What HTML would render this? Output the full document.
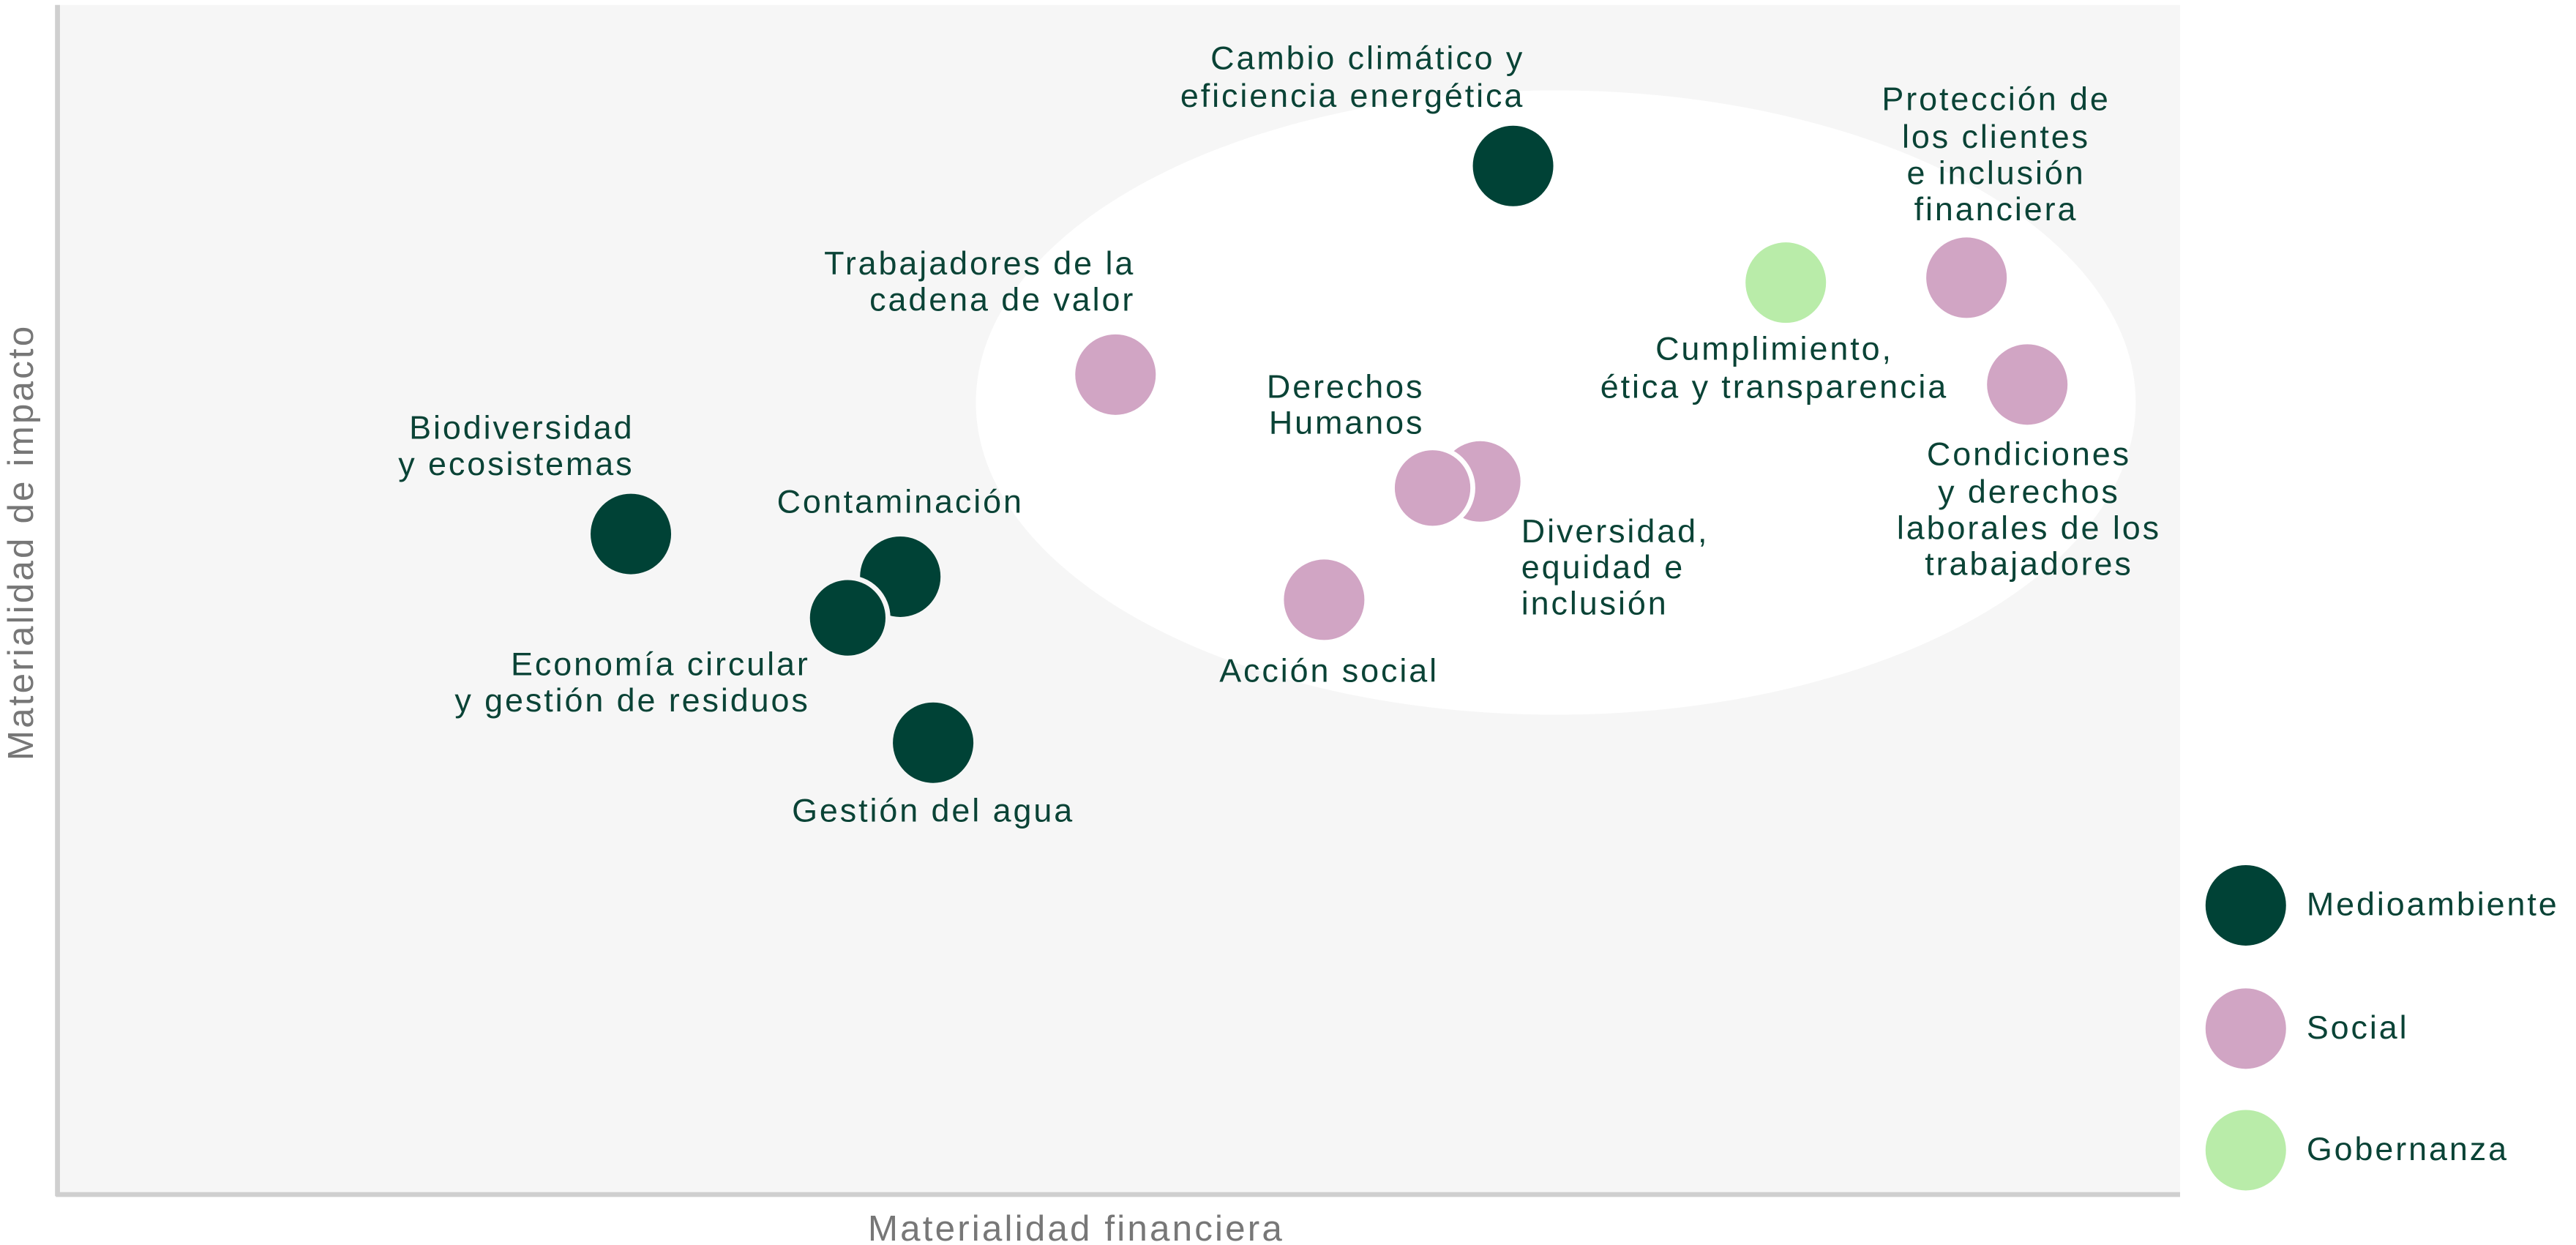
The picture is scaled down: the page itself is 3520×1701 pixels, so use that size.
<!DOCTYPE html>
<html><head><meta charset="utf-8"><style>
html,body{margin:0;padding:0;background:#fff;width:3520px;height:1701px;overflow:hidden}
svg{display:block}
text{font-family:"Liberation Sans",sans-serif;font-size:20px;letter-spacing:1.3px;fill:#0a4336}
</style></head><body>
<svg width="3520" height="1701" viewBox="0 0 1568 757.7">
<rect x="35" y="3" width="1292" height="724" fill="#f6f6f6"/>
<line x1="35" y1="3" x2="35" y2="728" stroke="#cfcfcf" stroke-width="3"/>
<line x1="34" y1="727" x2="1327" y2="727" stroke="#cfcfcf" stroke-width="3"/>
<ellipse cx="947" cy="245" rx="353" ry="190" fill="#fff"/>
<g fill="#004236">
<circle cx="921" cy="101" r="24.5"/>
<circle cx="384" cy="325" r="24.5"/>
<circle cx="548" cy="351" r="24.5"/>
<circle cx="516" cy="376" r="24.5" stroke="#f6f6f6" stroke-width="3"/>
<circle cx="568" cy="452" r="24.5"/>
<circle cx="1367" cy="551" r="24.5"/>
</g>
<g fill="#d1a5c4">
<circle cx="679" cy="228" r="24.5"/>
<circle cx="1197" cy="169" r="24.5"/>
<circle cx="1234" cy="234" r="24.5"/>
<circle cx="901" cy="293" r="24.5"/>
<circle cx="872" cy="297" r="24.5" stroke="#fff" stroke-width="3"/>
<circle cx="806" cy="365" r="24.5"/>
<circle cx="1367" cy="626" r="24.5"/>
</g>
<g fill="#b9eca9">
<circle cx="1087" cy="172" r="24.5"/>
<circle cx="1367" cy="700" r="24.5"/>
</g>
<g text-anchor="end">
<text x="928" y="42">Cambio climático y</text>
<text x="928" y="65">eficiencia energética</text>
<text x="691" y="167">Trabajadores de la</text>
<text x="691" y="189">cadena de valor</text>
<text x="867" y="242">Derechos</text>
<text x="867" y="264">Humanos</text>
<text x="386" y="267">Biodiversidad</text>
<text x="386" y="289">y ecosistemas</text>
<text x="493" y="411">Economía circular</text>
<text x="493" y="433">y gestión de residuos</text>
</g>
<g text-anchor="middle">
<text x="1215" y="67">Protección de</text>
<text x="1215" y="90">los clientes</text>
<text x="1215" y="112">e inclusión</text>
<text x="1215" y="134">financiera</text>
<text x="1080" y="219">Cumplimiento,</text>
<text x="1080" y="242">ética y transparencia</text>
<text x="548" y="312">Contaminación</text>
<text x="568" y="500">Gestión del agua</text>
<text x="809" y="415">Acción social</text>
<text x="1235" y="283">Condiciones</text>
<text x="1235" y="306">y derechos</text>
<text x="1235" y="328">laborales de los</text>
<text x="1235" y="350">trabajadores</text>
</g>
<text x="926" y="330">Diversidad,</text>
<text x="926" y="352">equidad e</text>
<text x="926" y="374">inclusión</text>
<text x="1404" y="557">Medioambiente</text>
<text x="1404" y="632">Social</text>
<text x="1404" y="706">Gobernanza</text>
<text x="655" y="755" text-anchor="middle" style="fill:#777;font-size:22px;letter-spacing:1.4px">Materialidad financiera</text>
<text transform="translate(20,330) rotate(-90)" text-anchor="middle" style="fill:#777;font-size:22px;letter-spacing:1.4px">Materialidad de impacto</text>
</svg>
</body></html>
